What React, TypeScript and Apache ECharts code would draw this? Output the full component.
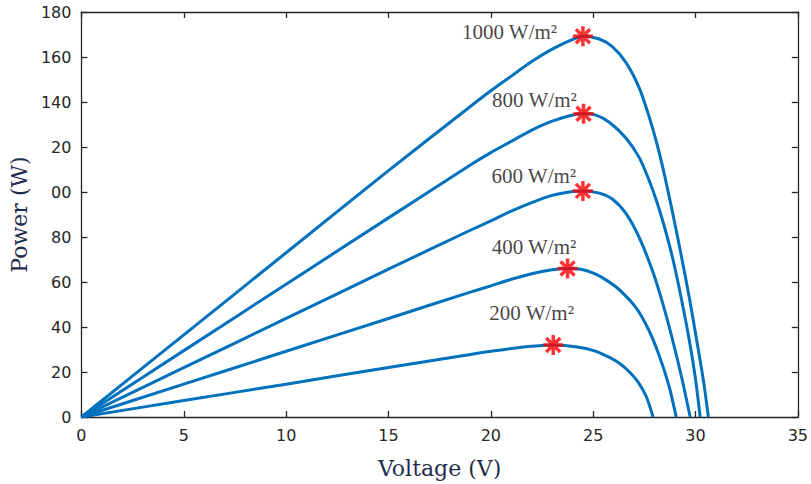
import React, { useEffect, useRef } from "react";
import * as echarts from "echarts";

// Voltage (V) / Power (W) samples, per irradiance level
const v1000 = [0, 5, 10, 15, 19, 20, 21, 22, 23, 24, 24.5, 25.3, 25.95, 26.6, 27.24, 27.7, 28.13, 28.5, 28.9, 29.3, 29.7, 30.1, 30.4, 30.63];
const p1000 = [0, 36.5, 73, 109.5, 138, 145, 151.5, 158, 163.5, 167.8, 169.2, 168, 164.5, 157.6, 146.5, 134.5, 121, 107, 90, 72, 53, 32, 15.5, 0];

const v800 = [0, 5, 10, 15, 19, 20, 21, 22, 23, 24, 24.53, 25.14, 25.79, 26.6, 27.24, 27.7, 28.1, 28.5, 28.9, 29.3, 29.7, 30.0, 30.23];
const p800 = [0, 29.5, 59, 88.5, 112, 117.5, 122.5, 127.5, 131.5, 134.2, 134.8, 134.2, 131, 124, 115.5, 106, 96, 84, 70, 53, 34, 17, 0];

const v600 = [0, 5, 10, 15, 19, 20, 21, 22, 23, 24, 24.5, 25.3, 25.95, 26.6, 27.24, 27.9, 28.4, 28.86, 29.34, 29.74];
const p600 = [0, 21.9, 43.8, 65.7, 83, 87.2, 91.5, 95.3, 98.5, 100.2, 100.5, 99.5, 96.8, 90.5, 80, 65, 50.5, 35, 17, 0];

const v400 = [0, 5, 10, 15, 19, 20, 21, 22, 23, 23.75, 24.4, 25.1, 25.7, 26.3, 27.1, 27.7, 28.2, 28.7, 29.06];
const p400 = [0, 14.6, 29.2, 43.8, 55.5, 58.3, 61.2, 63.7, 65.4, 66, 65.7, 63.6, 60.5, 56.4, 48.5, 39, 28, 14, 0];

const v200 = [0, 5, 10, 15, 19, 20, 21, 22, 23.05, 24.3, 25.1, 25.8, 26.3, 26.8, 27.2, 27.6, 27.93];
const p200 = [0, 7.3, 14.6, 22, 27.8, 29.2, 30.4, 31.4, 32, 31, 29.3, 26.5, 23.8, 19.8, 15.5, 9, 0];

// Maximum power points
const mppV = [24.5, 24.53, 24.5, 23.75, 23.05];
const mppP = [169.2, 134.8, 100.5, 66, 32];
const mppLabels = ["1000 W/m²", "800 W/m²", "600 W/m²", "400 W/m²", "200 W/m²"];

// Tick labels as they appear (the left edge of the reference crops two of them)
const yTickLabels = ["0", "20", "40", "60", "80", "00", "20", "140", "160", "180"];
const xTickLabels = ["0", "5", "10", "15", "20", "25", "30", "35"];

const labelPos: [number, number][] = [
  [-14, 7],
  [5, -2],
  [5, -3.5],
  [20.5, -10],
  [32.5, -20],
];

const zip = (a: number[], b: number[]) => a.map((x, i) => [x, b[i]]);

const curves = [
  zip(v1000, p1000),
  zip(v800, p800),
  zip(v600, p600),
  zip(v400, p400),
  zip(v200, p200),
];

const axisColor = "#262626";
const tickFont = { fontFamily: "DejaVu Sans", fontSize: 16, color: axisColor };

export default function App() {
  const ref = useRef<HTMLDivElement>(null);
  useEffect(() => {
    if (!ref.current) return;
    const chart = echarts.init(ref.current, undefined, { renderer: "svg" });
    const lineSeries = curves.map((d) => ({
      type: "line",
      data: d,
      showSymbol: false,
      smooth: 0.25,
      lineStyle: { color: "#0072BD", width: 3 },
      z: 2,
      silent: true,
    }));
    const starSeries = {
      type: "scatter",
      symbol: "path://M10,0L10,20M0,10L20,10M3,3L17,17M3,17L17,3",
      symbolSize: 20,
      itemStyle: { color: "#ff0000", borderColor: "#ff0000", borderWidth: 3.5 },
      z: 5,
      data: mppV.map((v, i) => ({
        value: [v, mppP[i]],
        label: {
          show: true,
          formatter: mppLabels[i],
          position: labelPos[i],
          align: "right",
          verticalAlign: "middle",
          fontFamily: "Liberation Serif",
          fontSize: 21,
          color: "#111111",
        },
      })),
    };
    chart.setOption({
      animation: false,
      backgroundColor: "#ffffff",
      grid: { left: 77.5, right: 11, top: 12, bottom: 60 },
      xAxis: [
        {
          type: "value",
          min: 0,
          max: 35,
          interval: 5,
          position: "bottom",
          name: "Voltage (V)",
          nameLocation: "middle",
          nameGap: 40,
          nameTextStyle: { fontFamily: "DejaVu Serif", fontSize: 22, color: "#1f2d4d" },
          axisLine: { show: true, onZero: false, lineStyle: { color: axisColor, width: 1.3 } },
          axisTick: { show: true, inside: true, length: 6, lineStyle: { color: axisColor, width: 1.3 } },
          axisLabel: { ...tickFont, margin: 10, formatter: (v: number) => xTickLabels[Math.round(v / 5)] ?? "" },
          splitLine: { show: false },
        },
        {
          type: "value",
          min: 0,
          max: 35,
          interval: 5,
          position: "top",
          axisLine: { show: true, onZero: false, lineStyle: { color: axisColor, width: 1.3 } },
          axisTick: { show: true, inside: true, length: 6, lineStyle: { color: axisColor, width: 1.3 } },
          axisLabel: { show: false },
          splitLine: { show: false },
        },
      ],
      yAxis: [
        {
          type: "value",
          min: 0,
          max: 180,
          interval: 20,
          position: "left",
          name: "Power (W)",
          nameLocation: "middle",
          nameGap: 45,
          nameTextStyle: { fontFamily: "DejaVu Serif", fontSize: 22, color: "#1f2d4d" },
          axisLine: { show: true, onZero: false, lineStyle: { color: axisColor, width: 1.3 } },
          axisTick: { show: true, inside: true, length: 6, lineStyle: { color: axisColor, width: 1.3 } },
          axisLabel: { ...tickFont, margin: 10, formatter: (v: number) => yTickLabels[Math.round(v / 20)] ?? "" },
          splitLine: { show: false },
        },
        {
          type: "value",
          min: 0,
          max: 180,
          interval: 20,
          position: "right",
          axisLine: { show: true, onZero: false, lineStyle: { color: axisColor, width: 1.3 } },
          axisTick: { show: true, inside: true, length: 6, lineStyle: { color: axisColor, width: 1.3 } },
          axisLabel: { show: false },
          splitLine: { show: false },
        },
      ],
      series: [...lineSeries, starSeries],
    });
    return () => chart.dispose();
  }, []);
  return <div ref={ref} style={{ width: 811, height: 484, position: "absolute", left: 0, top: 0 }} />;
}
